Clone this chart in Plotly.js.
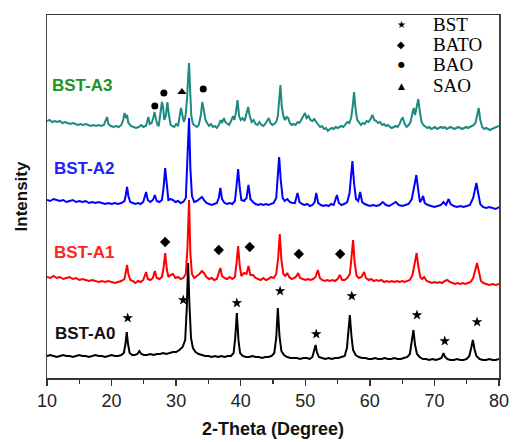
<!DOCTYPE html>
<html>
<head>
<meta charset="utf-8">
<script src="https://cdn.plot.ly/plotly-3.0.1.min.js"></script>
<style>html,body{margin:0;padding:0;background:#fff;}#chart{width:515px;height:442px;}</style>
</head>
<body>
<div id="chart"></div>
<script>
// 2-Theta (deg), intensity (arbitrary units, patterns stacked)
const A0 = [[10,22],[10.5,23],[11,22],[11.5,21],[12,22],[12.5,23],[13,22],[13.5,22],[14,21],[14.5,22],[15,23],[15.5,22],[16,22],[16.5,21],[17,22],[17.5,23],[18,22],[18.5,22],[19,21],[19.5,22],[20,23],[20.5,22],[21,22],[21.5,23],[21.9,25],[22.15,34],[22.35,46],[22.55,34],[22.8,25],[23.2,23],[23.6,23],[24.0,24],[24.3,27],[24.6,24],[25,23],[25.5,23],[26,24],[26.5,23],[27,24],[27.5,24],[28,25],[28.5,24],[29,25],[29.5,26],[30,26],[30.5,28],[31,31],[31.4,38],[31.65,70],[31.85,115],[32.05,75],[32.3,40],[32.6,30],[33,26],[33.5,24],[34,23],[34.5,22],[35,22],[35.5,21],[36,22],[36.5,21],[37,22],[37.5,21],[38,22],[38.5,22],[38.9,25],[39.15,40],[39.4,65],[39.65,38],[39.9,25],[40.3,22],[40.8,21],[41.3,21],[41.8,22],[42.3,21],[42.8,21],[43.3,20],[43.8,21],[44.3,21],[44.8,22],[45.2,25],[45.5,40],[45.75,70],[46.0,42],[46.3,27],[46.7,23],[47.2,21],[47.7,20],[48.2,20],[48.7,20],[49.2,19],[49.7,20],[50.2,20],[50.7,19],[51.1,21],[51.4,27],[51.6,33],[51.8,26],[52.1,21],[52.6,20],[53.1,19],[53.6,20],[54.1,19],[54.6,20],[55.1,20],[55.6,21],[56.1,22],[56.45,30],[56.7,48],[56.9,63],[57.15,42],[57.4,28],[57.8,23],[58.3,21],[58.8,20],[59.3,20],[59.8,19],[60.3,19],[60.8,20],[61.3,19],[61.8,19],[62.3,20],[62.8,19],[63.3,19],[63.8,20],[64.3,19],[64.8,19],[65.3,20],[65.8,21],[66.2,24],[66.5,35],[66.75,48],[67.0,33],[67.3,24],[67.7,21],[68.2,19],[68.7,19],[69.2,18],[69.7,19],[70.2,18],[70.7,19],[71.1,20],[71.4,25],[71.65,21],[72.0,19],[72.5,18],[73,18],[73.5,19],[74,18],[74.5,18],[75,19],[75.4,22],[75.7,30],[75.95,38],[76.2,29],[76.5,22],[77,19],[77.5,18],[78,18],[78.5,19],[79,18],[79.5,18],[80,19]];

const A1 = [[10,101],[10.5,100],[11,102],[11.5,100],[12,101],[12.5,99],[13,100],[13.5,101],[14,99],[14.5,100],[15,98],[15.5,99],[16,98],[16.5,97],[17,98],[17.5,97],[18,96],[18.5,97],[19,96],[19.5,97],[20,96],[20.5,95],[21,96],[21.5,97],[22,99],[22.2,105],[22.4,113],[22.6,104],[22.9,98],[23.3,97],[23.7,95],[24.1,97],[24.5,96],[24.9,98],[25.2,103],[25.35,106],[25.6,99],[26,98],[26.4,100],[26.7,107],[27,100],[27.4,99],[27.8,101],[28.05,110],[28.3,125],[28.55,109],[28.8,101],[29.1,103],[29.5,104],[29.9,100],[30.3,101],[30.7,99],[31.1,100],[31.5,104],[31.75,130],[32.0,178],[32.2,125],[32.45,104],[32.8,100],[33.2,102],[33.6,104],[34.0,107],[34.3,105],[34.7,101],[35.1,99],[35.5,100],[35.9,98],[36.3,99],[36.6,104],[36.85,110],[37.1,102],[37.5,100],[37.9,99],[38.3,101],[38.7,99],[39.1,101],[39.35,115],[39.6,132],[39.85,112],[40.1,102],[40.5,105],[40.9,104],[41.2,112],[41.5,103],[41.9,103],[42.3,100],[42.7,99],[43.1,98],[43.5,100],[43.9,98],[44.3,99],[44.7,101],[45.1,100],[45.5,104],[45.8,120],[46.05,144],[46.3,118],[46.6,104],[46.9,102],[47.2,105],[47.5,101],[47.9,99],[48.3,100],[48.65,102],[48.9,105],[49.2,100],[49.6,99],[50,98],[50.4,99],[50.8,98],[51.2,99],[51.6,101],[51.95,108],[52.25,100],[52.6,98],[53,97],[53.4,98],[53.8,97],[54.2,98],[54.6,97],[55.0,99],[55.35,103],[55.7,98],[56.1,98],[56.5,100],[56.9,104],[57.15,120],[57.4,138],[57.65,115],[57.95,102],[58.3,100],[58.7,101],[59.1,106],[59.4,100],[59.8,98],[60.2,99],[60.6,97],[61,98],[61.4,97],[61.8,98],[62.2,96],[62.6,97],[63,96],[63.4,97],[63.8,96],[64.2,97],[64.6,96],[65,97],[65.4,96],[65.8,97],[66.2,98],[66.6,103],[66.95,115],[67.25,125],[67.5,112],[67.8,101],[68.1,99],[68.4,101],[68.8,97],[69.2,96],[69.6,95],[70,96],[70.4,95],[70.8,96],[71.2,95],[71.6,97],[72,98],[72.4,96],[72.8,95],[73.2,94],[73.6,95],[74,94],[74.4,95],[74.8,94],[75.2,95],[75.6,96],[76,100],[76.35,108],[76.6,115],[76.9,106],[77.2,97],[77.6,95],[78,94],[78.5,93],[79,94],[79.5,93],[80,94]];

const A2 = [[10,178],[10.5,177],[11,179],[11.5,178],[12,177],[12.5,178],[13,176],[13.5,177],[14,178],[14.5,176],[15,177],[15.5,176],[16,177],[16.5,175],[17,176],[17.5,175],[18,176],[18.5,175],[19,174],[19.5,175],[20,174],[20.5,175],[21,174],[21.5,175],[22,177],[22.2,183],[22.4,191],[22.6,182],[22.9,176],[23.3,175],[23.7,174],[24.1,175],[24.5,174],[24.9,176],[25.15,181],[25.35,186],[25.6,178],[26,176],[26.4,178],[26.7,183],[27,177],[27.4,176],[27.8,178],[28.05,190],[28.3,210],[28.55,190],[28.8,178],[29.1,179],[29.5,178],[29.9,176],[30.3,177],[30.7,175],[31.1,176],[31.5,180],[31.75,215],[32.0,260],[32.2,210],[32.45,182],[32.8,176],[33.2,177],[33.6,179],[34.0,181],[34.3,178],[34.7,175],[35.1,174],[35.5,173],[35.9,174],[36.3,175],[36.6,180],[36.85,190],[37.1,179],[37.5,175],[37.9,174],[38.3,175],[38.7,174],[39.1,177],[39.35,192],[39.6,209],[39.85,190],[40.1,178],[40.5,177],[40.9,180],[41.2,193],[41.5,179],[41.9,176],[42.3,174],[42.7,173],[43.1,174],[43.5,173],[43.9,174],[44.3,173],[44.7,174],[45.1,175],[45.5,180],[45.75,200],[45.95,221],[46.2,198],[46.5,180],[46.8,177],[47.2,179],[47.6,176],[48.0,175],[48.4,175],[48.8,185],[49.1,176],[49.5,174],[49.9,173],[50.3,174],[50.7,172],[51.1,173],[51.45,176],[51.7,185],[52.0,175],[52.4,173],[52.8,172],[53.2,173],[53.6,172],[54.0,174],[54.4,173],[54.9,183],[55.2,175],[55.6,173],[56,174],[56.5,176],[56.85,185],[57.05,200],[57.3,217],[57.55,195],[57.85,179],[58.2,177],[58.5,186],[58.8,176],[59.2,174],[59.6,173],[60,172],[60.5,173],[61,172],[61.5,173],[62,176],[62.5,173],[63,172],[63.5,174],[64,176],[64.5,173],[65,172],[65.5,173],[66,174],[66.5,179],[66.95,193],[67.2,203],[67.45,190],[67.75,176],[68.0,178],[68.25,182],[68.5,175],[69,173],[69.5,172],[70,171],[70.5,172],[71,173],[71.4,176],[71.8,173],[72.2,179],[72.5,174],[73,172],[73.5,171],[74,172],[74.5,171],[75,172],[75.5,173],[76,180],[76.3,190],[76.5,195],[76.75,186],[77.1,174],[77.5,171],[78,170],[78.5,171],[79,170],[79.5,169],[80,171]];

const A3 = [[10,257],[10.4,258],[10.8,256],[11.2,257],[11.6,256],[12,257],[12.4,255],[12.8,256],[13.2,255],[13.6,254],[14,255],[14.4,254],[14.8,253],[15.2,254],[15.6,253],[16,254],[16.4,253],[16.8,252],[17.2,253],[17.6,252],[18,253],[18.4,252],[18.8,253],[19.1,257],[19.3,261],[19.5,254],[19.9,252],[20.3,251],[20.7,252],[21.1,251],[21.5,253],[21.8,258],[22.0,265],[22.2,260],[22.4,263],[22.6,255],[23.0,252],[23.4,251],[23.8,250],[24.2,251],[24.6,253],[24.9,251],[25.3,252],[25.5,256],[25.7,261],[25.9,254],[26.2,255],[26.45,260],[26.65,266],[26.9,258],[27.1,253],[27.3,252],[27.55,262],[27.8,276],[28.0,270],[28.15,258],[28.4,262],[28.65,276],[28.9,262],[29.15,253],[29.4,252],[29.7,251],[30.0,254],[30.3,252],[30.55,262],[30.75,270],[31.0,262],[31.2,256],[31.45,262],[31.7,280],[31.85,300],[32.0,315],[32.15,290],[32.35,262],[32.6,254],[32.9,252],[33.2,251],[33.5,253],[33.8,262],[34.05,276],[34.3,268],[34.55,258],[34.8,255],[35.1,252],[35.4,254],[35.7,251],[36.0,252],[36.3,250],[36.6,253],[36.9,258],[37.1,255],[37.4,260],[37.6,256],[37.9,254],[38.2,253],[38.5,257],[38.8,262],[39.0,258],[39.25,265],[39.5,278],[39.75,262],[40.0,258],[40.3,260],[40.6,257],[40.9,265],[41.15,271],[41.4,262],[41.7,256],[42.0,258],[42.3,254],[42.6,253],[42.9,256],[43.2,253],[43.5,252],[43.8,254],[44.1,257],[44.35,260],[44.6,255],[44.9,253],[45.2,254],[45.5,256],[45.75,262],[45.95,278],[46.15,293],[46.35,272],[46.6,262],[46.85,258],[47.1,261],[47.35,260],[47.6,255],[47.9,253],[48.2,254],[48.5,253],[48.8,256],[49.1,255],[49.4,258],[49.7,262],[49.95,265],[50.2,260],[50.5,262],[50.8,258],[51.1,257],[51.4,259],[51.7,256],[52.0,253],[52.3,251],[52.6,252],[52.9,249],[53.2,250],[53.5,247],[53.8,249],[54.1,250],[54.4,249],[54.7,251],[55.0,250],[55.3,251],[55.6,252],[55.9,251],[56.2,253],[56.5,256],[56.8,255],[57.1,260],[57.35,272],[57.55,286],[57.8,268],[58.05,258],[58.3,256],[58.6,253],[58.9,255],[59.2,254],[59.5,257],[59.8,256],[60.1,259],[60.4,263],[60.7,258],[61.0,257],[61.3,255],[61.6,256],[61.9,253],[62.2,254],[62.5,252],[62.8,253],[63.1,251],[63.4,250],[63.7,251],[64.0,252],[64.3,251],[64.6,254],[64.9,259],[65.1,260],[65.4,254],[65.7,251],[66.0,253],[66.3,256],[66.6,265],[66.8,270],[67.0,263],[67.25,270],[67.5,279],[67.75,266],[68.0,256],[68.3,253],[68.6,251],[68.9,250],[69.2,251],[69.5,249],[69.8,250],[70.1,251],[70.4,249],[70.7,250],[71.0,251],[71.3,250],[71.6,251],[71.9,249],[72.2,250],[72.5,251],[72.8,250],[73.1,249],[73.4,250],[73.7,251],[74.0,250],[74.3,249],[74.6,250],[74.9,251],[75.2,250],[75.5,251],[75.8,252],[76.1,253],[76.4,256],[76.65,264],[76.85,270],[77.1,258],[77.4,251],[77.7,249],[78.0,250],[78.3,249],[78.6,248],[78.9,249],[79.2,250],[79.5,251],[79.8,252],[80,252]];

// phase marks: [2-theta, height]
const bstMarks  = [[22.5,60],[31.1,78],[39.4,75],[46.1,87],[51.7,44],[57.2,82],[67.3,63],[71.6,37],[76.6,56]];
const batoMarks = [[28.3,136],[36.6,128],[41.4,131],[49.0,124],[55.4,124]];
const baoMarks  = [[26.7,272],[28.1,285],[34.2,289]];
const saoMarks  = [[30.9,286]];

const sampleNames = ['BST-A0','BST-A1','BST-A2','BST-A3'];
const phaseNames = ['BST','BATO','BAO','SAO'];
const xTicks = [10,20,30,40,50,60,70,80];

const lineColors = ['#000000','#ff0000','#0000ff','#1c8a80'];
const labelColors = ['#111111','#ff2424','#2020ff','#20922a'];
const series = [A0,A1,A2,A3];

const traces = series.map((s,i)=>({
  x: s.map(p=>p[0]), y: s.map(p=>p[1]),
  type:'scatter', mode:'lines', name: sampleNames[i],
  line:{color:lineColors[i], width:2}, hoverinfo:'skip', showlegend:false
}));

function markTrace(arr, symbol, size){
  return {x:arr.map(p=>p[0]), y:arr.map(p=>p[1]), type:'scatter', mode:'markers',
    marker:{symbol:symbol, size:size, color:'#000', line:{width:0}}, showlegend:false, hoverinfo:'skip'};
}
traces.push(markTrace(bstMarks,'star',8));
traces.push(markTrace(batoMarks,'diamond',8));
traces.push(markTrace(baoMarks,'circle',7));
traces.push(markTrace(saoMarks,'triangle-up',8));

const H = 363;
const ann = [];
const labelPos = [[53,333],[52,252],[52,168],[50,86]];
sampleNames.forEach((n,i)=>{
  ann.push({text:'<b>'+n+'</b>', xref:'paper', yref:'paper',
    x:(labelPos[i][0]-47)/452, y:(378-labelPos[i][1])/H, xanchor:'left', yanchor:'middle',
    showarrow:false, font:{family:'Liberation Sans, Arial', size:17, color:labelColors[i]}});
});
const legSyms = ['\u2605','\u25C6','\u25CF','\u25B2'];
const legSize = [10,10,8,9];
const legY = [25,45,65,86];
phaseNames.forEach((n,i)=>{
  ann.push({text:legSyms[i], xref:'paper', yref:'paper', x:(401-47)/452, y:(378-legY[i])/H,
    xanchor:'center', yanchor:'middle', showarrow:false, font:{family:'DejaVu Sans', size:legSize[i], color:'#000'}});
  ann.push({text:n, xref:'paper', yref:'paper', x:(431-47)/452, y:(378-legY[i])/H,
    xanchor:'left', yanchor:'middle', showarrow:false, font:{family:'Liberation Serif, Times New Roman', size:19, color:'#000'}});
});

const layout = {
  width:515, height:442,
  margin:{l:47, r:16, t:15, b:64},
  paper_bgcolor:'#fff', plot_bgcolor:'#fff',
  showlegend:false,
  xaxis:{range:[10,80], tickvals:xTicks, ticktext:xTicks.map(String), ticks:'outside', ticklen:6, tickwidth:1.3, tickcolor:'#333',
    minor:{dtick:5, tick0:0, ticks:'outside', ticklen:4, tickwidth:1.2, tickcolor:'#333', showgrid:false},
    showline:true, linecolor:'#333', linewidth:1.5, mirror:true, showgrid:false, zeroline:false,
    tickfont:{family:'Liberation Sans, Arial', size:18, color:'#222'},
    title:{text:'<b>2-Theta (Degree)</b>', font:{family:'Liberation Sans, Arial', size:18, color:'#111'}, standoff:12}},
  yaxis:{range:[0,H], showticklabels:false, ticks:'', showline:true, linecolor:'#444', linewidth:1.5, mirror:true,
    showgrid:false, zeroline:false,
    title:{text:'<b>Intensity</b>', font:{family:'Liberation Sans, Arial', size:17, color:'#111'}, standoff:13}},
  annotations: ann
};
Plotly.newPlot('chart', traces, layout, {displayModeBar:false, staticPlot:true});
</script>
</body>
</html>
